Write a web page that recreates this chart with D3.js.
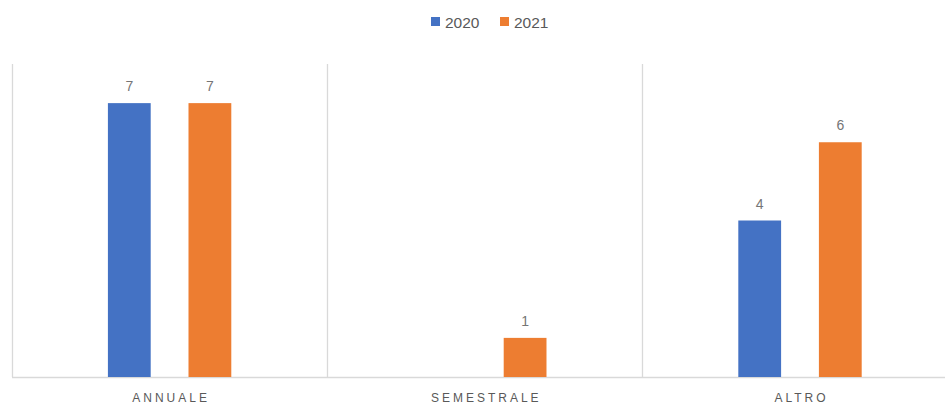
<!DOCTYPE html>
<html>
<head>
<meta charset="utf-8">
<script src="https://cdn.jsdelivr.net/npm/d3@7"></script>
<style>
  html, body { margin: 0; padding: 0; background: #fff; }
  svg { display: block; }
  text { font-family: "Liberation Sans", Arial, sans-serif; }
</style>
</head>
<body>
<svg id="chart" width="945" height="405"></svg>
<script>
const categories = ["ANNUALE", "SEMESTRALE", "ALTRO"];
const seriesNames = ["2020", "2021"];
const values2020 = [7, null, 4];
const values2021 = [7, 1, 6];
const colors = ["#4472C4", "#ED7D31"];

(function () {
const svg = d3.select("#chart");
const W = 945, H = 405;
const mLeft = 12, mTop = 64, mBottom = 377;

const x0 = d3.scaleBand().domain(categories).range([mLeft, mLeft + 3 * 315.2]).padding(0);
const x1 = d3.scaleBand().domain(seriesNames).range([0, x0.bandwidth()])
  .paddingInner(0.469).paddingOuter(1.19);
const y = d3.scaleLinear().domain([0, 8]).range([mBottom, mTop]);

// vertical category separators
const seps = categories.map(c => Math.round(x0(c)));
svg.append("g").selectAll("line").data(seps).join("line")
  .attr("x1", d => d + 0.5).attr("x2", d => d + 0.5)
  .attr("y1", mTop).attr("y2", mBottom)
  .attr("stroke", "#d9d9d9").attr("stroke-width", 1.3);

// baseline
svg.append("line")
  .attr("x1", mLeft).attr("x2", W).attr("y1", mBottom + 0.5).attr("y2", mBottom + 0.5)
  .attr("stroke", "#d9d9d9").attr("stroke-width", 1.3);

const seriesVals = [values2020, values2021];
seriesNames.forEach((s, si) => {
  const data = categories.map((c, i) => ({ c, v: seriesVals[si][i] })).filter(d => d.v != null);
  const g = svg.append("g");
  g.selectAll("rect").data(data).join("rect")
    .attr("x", d => x0(d.c) + x1(s))
    .attr("y", d => y(d.v))
    .attr("width", x1.bandwidth())
    .attr("height", d => y(0) - y(d.v))
    .attr("fill", colors[si]);
  g.selectAll("text").data(data).join("text")
    .attr("x", d => x0(d.c) + x1(s) + x1.bandwidth() / 2)
    .attr("y", d => y(d.v) - 12)
    .attr("text-anchor", "middle")
    .attr("font-size", 14)
    .attr("fill", "#757575")
    .text(d => d.v);
});

// category labels
svg.append("g").selectAll("text").data(categories).join("text")
  .attr("x", d => x0(d) + x0.bandwidth() / 2 + 1.5)
  .attr("y", 402)
  .attr("text-anchor", "middle")
  .attr("font-size", 12)
  .attr("letter-spacing", "3px")
  .attr("fill", "#595959")
  .text(d => d);

// legend
const legend = svg.append("g");
const legX = [431, 500];
seriesNames.forEach((s, i) => {
  legend.append("rect").attr("x", legX[i]).attr("y", 17).attr("width", 9).attr("height", 9).attr("fill", colors[i]);
  legend.append("text").attr("x", legX[i] + 14).attr("y", 27.5)
    .attr("font-size", 15.5).attr("fill", "#595959").text(s);
});
})();
</script>
</body>
</html>
